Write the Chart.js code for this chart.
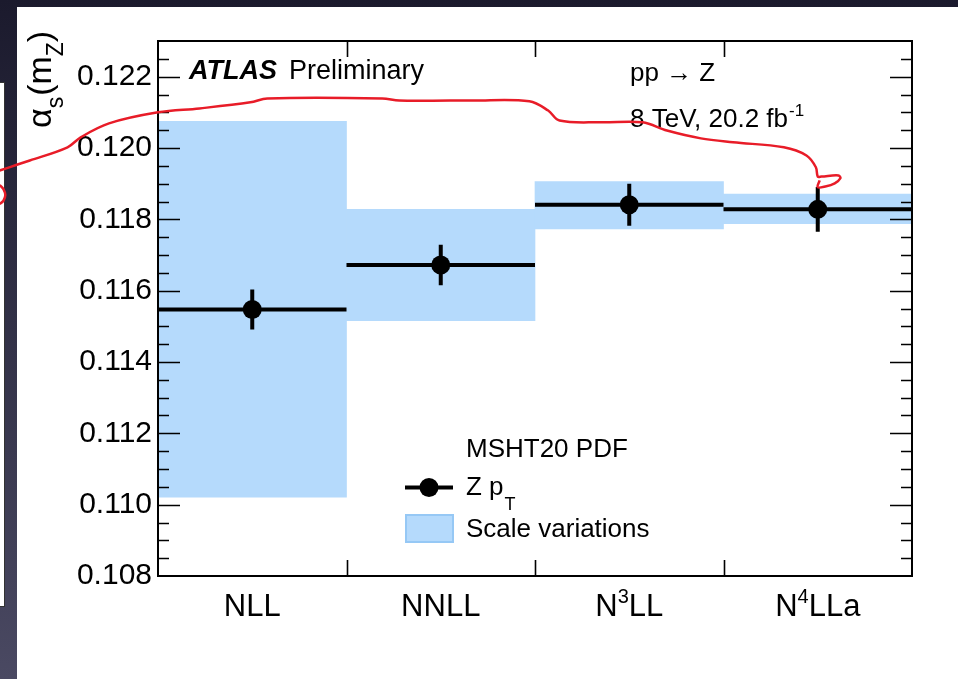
<!DOCTYPE html>
<html>
<head>
<meta charset="utf-8">
<script src="https://cdn.jsdelivr.net/npm/chart.js@4/dist/chart.umd.min.js"></script>
<style>
  html, body { margin: 0; padding: 0; }
  body { width: 958px; height: 679px; overflow: hidden; position: relative;
         background: linear-gradient(#1b1a2d, #4a4962); }
  #paper { position: absolute; left: 17px; top: 7px; width: 941px; height: 672px; background: #fff; }
  #side { position: absolute; left: 0; top: 82px; width: 4px; height: 523px; background: #fff; border: 1px solid #333; border-left: 0; }
  #AlphaS_Chart { position: absolute; left: 0; top: 0; }
</style>
</head>
<body>
<div id="paper"></div>
<div id="side"></div>
<canvas id="AlphaS_Chart" width="958" height="679"></canvas>
<script>
const alpha_chart = document.getElementById('AlphaS_Chart');

// values
const categories = ['NLL', 'NNLL', 'N³LL', 'N⁴LLa'];
const zpt = [0.11547, 0.11672, 0.11841, 0.11828];
const zptErr = [0.00056, 0.00057, 0.00059, 0.00063];
const scaleLo = [0.11021, 0.11516, 0.11773, 0.11788];
const scaleHi = [0.12075, 0.11828, 0.11906, 0.11871];
const yTicks = [0.108, 0.110, 0.112, 0.114, 0.116, 0.118, 0.120, 0.122];
const binEdges = [0, 1, 2, 3, 4];

// red pen scribble on top of the plot (x in bin units, y in alpha_s)
const redX = [-0.84, -0.68, -0.48, -0.41, -0.26, 0.0, 0.22, 0.49, 0.58, 1.19, 1.28, 1.55,
              1.66, 1.97, 2.07, 2.13, 2.35, 2.57, 2.70, 2.88, 3.05, 3.32, 3.44, 3.49, 3.50,
              3.52, 3.61, 3.62, 3.59, 3.54, 3.50, 3.51];
const redY = [0.11937, 0.11965, 0.12002, 0.12030, 0.12069, 0.12100, 0.12111, 0.12128, 0.12139, 0.12139, 0.12133, 0.12133,
              0.12133, 0.12131, 0.12105, 0.12077, 0.12072, 0.12072, 0.12049, 0.12027, 0.12016, 0.12002, 0.11979, 0.11946, 0.11920,
              0.11920, 0.11923, 0.11915, 0.11901, 0.11892, 0.11890, 0.11909];
const curlX = [-0.84, -0.82, -0.81, -0.82, -0.84];
const curlY = [0.11896, 0.11885, 0.11868, 0.11852, 0.11843];

const BLUE = 'rgb(181, 218, 252)';
const FONT = '"Liberation Sans", Arial, Helvetica, sans-serif';
const SUPERS = { '³': '3', '⁴': '4' };

// horizontal bin lines and vertical error bars, split by null gaps
const binLines = [];
const errLines = [];
categories.forEach((c, i) => {
    binLines.push({x: i, y: zpt[i]}, {x: i + 1, y: zpt[i]}, {x: i + 1, y: null});
    errLines.push({x: i + 0.5, y: zpt[i] - zptErr[i]}, {x: i + 0.5, y: zpt[i] + zptErr[i]}, {x: i + 0.5, y: null});
});

function txt(ctx, s, x, y, size, style) {
    ctx.font = (style || '') + ' ' + size + 'px ' + FONT;
    ctx.fillText(s, x, y);
    return ctx.measureText(s).width;
}

// split a label into normal / superscript runs
function runs(label) {
    const out = [];
    for (const ch of label) {
        const sup = SUPERS[ch] !== undefined;
        const c = sup ? SUPERS[ch] : ch;
        if (out.length && out[out.length - 1].sup === sup) out[out.length - 1].s += c;
        else out.push({s: c, sup: sup});
    }
    return out;
}

const atlasStyle = {
    id: 'atlasStyle',
    afterDatasetDraw(chart, args) {
        if (args.index !== 0) return;
        const ctx = chart.ctx;
        const a = chart.chartArea;
        const y = chart.scales.y;
        const x = chart.scales.x;
        ctx.save();
        ctx.strokeStyle = '#000';
        ctx.fillStyle = '#000';

        // frame
        ctx.lineWidth = 2;
        ctx.strokeRect(a.left, a.top, a.right - a.left, a.bottom - a.top);

        // y ticks on both sides, pointing inwards
        ctx.lineWidth = 1.6;
        for (let k = 0; k <= 30; k++) {
            const v = 0.108 + k * 0.0005;
            const py = Math.round(y.getPixelForValue(v)) + 0.5;
            if (py < a.top + 1 || py > a.bottom - 1) continue;
            const len = (k % 4 === 0) ? 22 : 11;
            ctx.beginPath();
            ctx.moveTo(a.left, py); ctx.lineTo(a.left + len, py);
            ctx.moveTo(a.right, py); ctx.lineTo(a.right - len, py);
            ctx.stroke();
        }
        // bin boundaries on top and bottom
        binEdges.slice(1, -1).forEach(e => {
            const px = Math.round(x.getPixelForValue(e)) + 0.5;
            ctx.beginPath();
            ctx.moveTo(px, a.top); ctx.lineTo(px, a.top + 16);
            ctx.moveTo(px, a.bottom); ctx.lineTo(px, a.bottom - 16);
            ctx.stroke();
        });

        ctx.textBaseline = 'alphabetic';
        ctx.textAlign = 'left';

        // category labels under the bins
        categories.forEach((c, i) => {
            const parts = runs(c);
            let total = 0;
            parts.forEach(p => {
                ctx.font = (p.sup ? 20 : 31) + 'px ' + FONT;
                p.w = ctx.measureText(p.s).width;
                total += p.w;
            });
            let cx = x.getPixelForValue(i + 0.5) - total / 2;
            parts.forEach(p => {
                txt(ctx, p.s, cx, p.sup ? 603 : 616, p.sup ? 20 : 31);
                cx += p.w;
            });
        });

        // header texts
        let w = txt(ctx, 'ATLAS', 189, 79, 27, 'italic bold');
        txt(ctx, 'Preliminary', 189 + w + 12, 79, 27);
        txt(ctx, 'pp \u2192 Z', 630, 81, 26);
        w = txt(ctx, '8 TeV, 20.2 fb', 630, 127, 26);
        txt(ctx, '-1', 630 + w + 1, 116, 17);

        // legend
        txt(ctx, 'MSHT20 PDF', 466, 457, 26);
        ctx.lineWidth = 4;
        ctx.beginPath(); ctx.moveTo(405, 487.5); ctx.lineTo(453, 487.5); ctx.stroke();
        ctx.beginPath(); ctx.arc(429, 487.5, 9.5, 0, Math.PI * 2); ctx.fill();
        w = txt(ctx, 'Z p', 466, 495, 26);
        txt(ctx, 'T', 466 + w + 1, 510, 18);
        ctx.fillStyle = BLUE;
        ctx.fillRect(405, 514, 49, 29);
        ctx.strokeStyle = 'rgb(150, 200, 245)';
        ctx.lineWidth = 2;
        ctx.strokeRect(406, 515, 47, 27);
        ctx.fillStyle = '#000';
        txt(ctx, 'Scale variations', 466, 537, 26);

        // y title alpha_s(m_Z)
        ctx.translate(51, 128);
        ctx.rotate(-Math.PI / 2);
        let cx = 0;
        cx += txt(ctx, '\u03b1', cx, 0, 34);
        cx += txt(ctx, 's', cx, 12, 23);
        cx += txt(ctx, '(m', cx + 1, 0, 34) + 1;
        cx += txt(ctx, 'Z', cx, 12, 23);
        txt(ctx, ')', cx, 0, 34);
        ctx.restore();
    }
};

function alphaS_Chart() {
    new Chart(alpha_chart, {
        data: {
            datasets: [{
                type: 'bar',
                label: 'Scale variations',
                data: categories.map((c, i) => ({x: i + 0.5, y: [scaleLo[i], scaleHi[i]]})),
                backgroundColor: BLUE,
                borderWidth: 0,
                barPercentage: 1,
                categoryPercentage: 1,
                order: 5
            }, {
                type: 'line',
                label: 'Z pT',
                data: binLines,
                borderColor: '#000',
                borderWidth: 4,
                pointRadius: 0,
                spanGaps: false,
                order: 3
            }, {
                type: 'line',
                label: 'Z pT err',
                data: errLines,
                borderColor: '#000',
                borderWidth: 4,
                pointRadius: 0,
                spanGaps: false,
                order: 2
            }, {
                type: 'scatter',
                label: 'Z pT points',
                data: categories.map((c, i) => ({x: i + 0.5, y: zpt[i]})),
                backgroundColor: '#000',
                borderWidth: 0,
                pointRadius: 9.5,
                order: 1
            }, {
                type: 'line',
                label: 'pen',
                data: redX.map((v, i) => ({x: v, y: redY[i]})),
                borderColor: 'rgb(232, 28, 40)',
                borderWidth: 2.5,
                pointRadius: 0,
                tension: 0.35,
                clip: false,
                order: 0
            }, {
                type: 'line',
                label: 'pen curl',
                data: curlX.map((v, i) => ({x: v, y: curlY[i]})),
                borderColor: 'rgb(232, 28, 40)',
                borderWidth: 2.5,
                pointRadius: 0,
                tension: 0.4,
                clip: false,
                order: 0
            }]
        },
        options: {
            responsive: false,
            animation: false,
            events: [],
            layout: { padding: { top: 41, right: 46, bottom: 103, left: 0 } },
            plugins: {
                legend: { display: false },
                tooltip: { enabled: false }
            },
            scales: {
                x: {
                    type: 'linear',
                    display: false,
                    offset: false,
                    min: 0,
                    max: 4,
                    afterBuildTicks(scale) { scale.ticks = binEdges.map(v => ({value: v})); }
                },
                y: {
                    type: 'linear',
                    min: 0.108,
                    max: 0.123,
                    grid: { display: false, drawTicks: false },
                    border: { display: false },
                    afterBuildTicks(scale) { scale.ticks = yTicks.map(v => ({value: v})); },
                    afterFit(scale) { scale.width = 158; },
                    ticks: {
                        color: '#000',
                        padding: 6,
                        font: { family: FONT, size: 30 },
                        callback: function(value) { return value.toFixed(3); }
                    }
                }
            }
        },
        plugins: [atlasStyle]
    });
}
alphaS_Chart()
</script>
</body>
</html>
